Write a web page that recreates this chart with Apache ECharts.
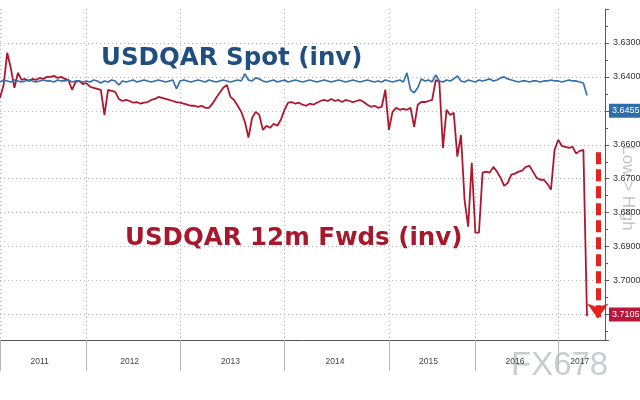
<!DOCTYPE html>
<html><head><meta charset="utf-8">
<script src="https://cdn.jsdelivr.net/npm/echarts@6/dist/echarts.min.js"></script>
<style>html,body{margin:0;padding:0;background:#fff}#c{width:640px;height:400px}</style>
</head><body><div id="c"></div>
<script>
// Categories: observation dates (Bloomberg-style trading axis)
const dates = [
 '2011-01-03','2011-01-17','2011-02-01','2011-02-15','2011-03-01','2011-03-15','2011-04-01','2011-04-15','2011-05-02','2011-05-16','2011-06-01','2011-06-15','2011-07-01','2011-07-15','2011-08-01','2011-08-15','2011-09-01','2011-09-15','2011-10-03','2011-10-17','2011-11-01','2011-11-15','2011-12-01','2011-12-15',
 '2012-01-02','2012-01-16','2012-01-30','2012-02-13','2012-02-27','2012-03-12','2012-03-26','2012-04-09','2012-04-23','2012-05-07','2012-05-21','2012-06-04','2012-06-18','2012-07-02','2012-07-16','2012-07-30','2012-08-13','2012-08-27','2012-09-10','2012-09-24','2012-10-08','2012-10-22','2012-11-05','2012-11-19','2012-12-03','2012-12-17',
 '2013-01-02','2013-01-15','2013-01-28','2013-02-10','2013-02-22','2013-03-07','2013-03-20','2013-04-01','2013-04-14','2013-04-27','2013-05-10','2013-05-22','2013-06-04','2013-06-17','2013-06-29','2013-07-12','2013-07-25','2013-08-07','2013-08-19','2013-09-01','2013-09-14','2013-09-27','2013-10-09','2013-10-22','2013-11-04','2013-11-16','2013-11-29','2013-12-12','2013-12-24',
 '2014-01-02','2014-01-15','2014-01-28','2014-02-10','2014-02-22','2014-03-07','2014-03-20','2014-04-01','2014-04-14','2014-04-27','2014-05-10','2014-05-22','2014-06-04','2014-06-17','2014-06-29','2014-07-12','2014-07-25','2014-08-07','2014-08-19','2014-09-01','2014-09-14','2014-09-27','2014-10-09','2014-10-22','2014-11-04','2014-11-16','2014-11-29','2014-12-12','2014-12-24',
 '2015-01-02','2015-01-15','2015-02-01','2015-02-15','2015-03-01','2015-03-15','2015-04-01','2015-04-15','2015-05-01','2015-05-15','2015-06-01','2015-06-15','2015-07-01','2015-07-15','2015-08-01','2015-08-15','2015-09-01','2015-09-15','2015-10-01','2015-10-15','2015-11-01','2015-11-15','2015-12-01','2015-12-15',
 '2016-01-04','2016-01-20','2016-02-05','2016-02-21','2016-03-08','2016-03-24','2016-04-09','2016-04-25','2016-05-11','2016-05-27','2016-06-12','2016-06-28','2016-07-14','2016-07-30','2016-08-15','2016-08-31','2016-09-16','2016-10-02','2016-10-18','2016-11-03','2016-11-19','2016-12-05','2016-12-21',
 '2017-01-02','2017-01-24','2017-02-15','2017-03-09','2017-03-31','2017-04-24','2017-05-16','2017-06-02','2017-06-06','2017-06-09','2017-06-14','2017-06-19','2017-06-23','2017-06-28'
];

// USDQAR spot (inverted axis)
const spot = [
 3.6415,3.6409,3.6412,3.6415,3.6409,3.6412,3.6415,3.6412,3.6409,3.6412,
 3.6415,3.6412,3.6409,3.6412,3.6412,3.6415,3.6409,3.6412,3.6412,3.6409,
 3.6415,3.6412,3.6412,3.6415,3.6412,3.6415,3.6409,3.6412,3.6418,3.6412,
 3.6415,3.6409,3.6412,3.6424,3.6412,3.6415,3.6412,3.6409,3.6415,3.6412,
 3.6409,3.6412,3.6415,3.6412,3.6409,3.6412,3.6415,3.6412,3.6409,3.6435,
 3.6412,3.6409,3.6412,3.6415,3.6412,3.6409,3.6412,3.6415,3.6409,3.6412,
 3.6415,3.6412,3.6409,3.6412,3.6415,3.6412,3.6409,3.6412,3.6391,3.6409,
 3.6412,3.6403,3.6406,3.6412,3.6415,3.6412,3.6409,3.6415,3.6412,3.6409,
 3.6415,3.6412,3.6409,3.6412,3.6415,3.6412,3.6409,3.6412,3.6415,3.6412,
 3.6409,3.6412,3.6415,3.6412,3.6409,3.6412,3.6415,3.6412,3.6409,3.6412,
 3.6415,3.6412,3.6409,3.6412,3.6415,3.6412,3.6415,3.6409,3.6412,3.6415,
 3.6412,3.6409,3.6415,3.6388,3.6438,3.6447,3.6432,3.6406,3.6412,3.6409,
 3.6415,3.6394,3.6412,3.6415,3.6409,3.6412,3.6406,3.6397,3.6412,3.6415,
 3.6409,3.6412,3.6415,3.6409,3.6412,3.6409,3.6406,3.6412,3.6409,3.6403,
 3.6400,3.6406,3.6409,3.6412,3.6415,3.6412,3.6412,3.6415,3.6412,3.6412,
 3.6415,3.6412,3.6412,3.6409,3.6412,3.6412,3.6415,3.6412,3.6409,3.6412,
 3.6412,3.6415,3.6418,3.6455
];

// USDQAR 12m forwards (inverted axis)
const fwd = [
 3.6462,3.6424,3.6329,3.6374,3.6432,3.6388,3.6409,3.6406,3.6412,3.6406,
 3.6409,3.6403,3.6406,3.6400,3.6400,3.6397,3.6403,3.6400,3.6406,3.6409,
 3.6438,3.6415,3.6412,3.6421,3.6418,3.6429,3.6432,3.6435,3.6438,3.6512,
 3.6438,3.6441,3.6444,3.6465,3.6471,3.6468,3.6471,3.6476,3.6474,3.6479,
 3.6476,3.6474,3.6468,3.6465,3.6459,3.6462,3.6465,3.6468,3.6471,3.6474,
 3.6476,3.6479,3.6482,3.6485,3.6485,3.6488,3.6485,3.6491,3.6491,3.6479,
 3.6462,3.6447,3.6432,3.6424,3.6459,3.6468,3.6485,3.6503,3.6532,3.6579,
 3.6521,3.6503,3.6512,3.6556,3.6544,3.6550,3.6538,3.6544,3.6526,3.6497,
 3.6476,3.6474,3.6479,3.6476,3.6482,3.6485,3.6479,3.6482,3.6476,3.6471,
 3.6468,3.6471,3.6465,3.6471,3.6468,3.6474,3.6468,3.6471,3.6474,3.6471,
 3.6468,3.6474,3.6482,3.6488,3.6485,3.6491,3.6488,3.6438,3.6556,3.6503,
 3.6491,3.6497,3.6494,3.6497,3.6491,3.6547,3.6482,3.6474,3.6474,3.6471,
 3.6468,3.6409,3.6415,3.6609,3.6497,3.6512,3.6506,3.6635,3.6571,3.6762,
 3.6841,3.6653,3.6859,3.6859,3.6682,3.6679,3.6682,3.6665,3.6679,3.6697,
 3.6721,3.6712,3.6688,3.6685,3.6679,3.6676,3.6665,3.6662,3.6679,3.6697,
 3.6703,3.6703,3.6715,3.6732,3.6615,3.6585,3.6603,3.6606,3.6609,3.6606,
 3.6626,3.6618,3.6615,3.7105
];

const lastSpot = 3.6455;
const lastFwd = 3.7105;
const arrowFrom = 3.6622, arrowTo = 3.7112, arrowAt = 166;
const yTicks = { min: 3.62, max: 3.7175, step: 0.01 };

// year boundaries / label positions derived from categories
const yearStart = new Set(), yearMid = new Set();
(function(){
  const groups = {};
  dates.forEach((d,i)=>{const y=d.slice(0,4);(groups[y]=groups[y]||[]).push(i);});
  Object.values(groups).forEach(g=>{yearStart.add(g[0]);yearMid.add(Math.floor((g[0]+g[g.length-1])/2));});
})();

const chart = echarts.init(document.getElementById('c'), null, {renderer:'canvas'});
chart.setOption({
  animation:false,
  backgroundColor:'#ffffff',
  grid:{left:0,right:35,top:9,bottom:60,containLabel:false,outerBoundsMode:'none'},
  title:[
    {text:'USDQAR Spot (inv)',left:96,top:41,textStyle:{fontFamily:'DejaVu Sans',fontWeight:'bold',fontSize:24.5,color:'#1f4e7f'}},
    {text:'USDQAR 12m Fwds (inv)',left:120,top:221,textStyle:{fontFamily:'DejaVu Sans',fontWeight:'bold',fontSize:24.5,color:'#a8182c'}}
  ],
  graphic:[
    {type:'text',x:628,y:188,rotation:-Math.PI/2,style:{text:'Low > High',font:'17px "Liberation Sans"',fill:'#c4c4c4',align:'center',verticalAlign:'middle'}},
    {type:'text',left:511,top:349,style:{text:'FX678',font:'33px "Liberation Sans"',fill:'#c9ccd0'}}
  ],
  xAxis:{
    type:'category',data:dates,boundaryGap:false,
    axisLine:{lineStyle:{color:'#555',width:1}},
    axisTick:{show:true,length:31,interval:(i)=>yearStart.has(i),lineStyle:{color:'#b5b5b5'}},
    axisLabel:{show:true,interval:(i)=>yearMid.has(i),hideOverlap:false,formatter:(v)=>v.slice(0,4),fontSize:8.5,color:'#444',fontFamily:'Liberation Sans',margin:17},
    splitLine:{show:true,interval:(i)=>yearStart.has(i),lineStyle:{color:'#b8b8b8',type:[1,3]}}
  },
  yAxis:{
    type:'value',position:'right',inverse:true,
    min:yTicks.min,max:yTicks.max,interval:yTicks.step,
    axisLine:{show:true,lineStyle:{color:'#4d5b6a'}},
    axisTick:{show:true,length:4,lineStyle:{color:'#4d5b6a'}},
    minorTick:{show:true,splitNumber:2,length:3,lineStyle:{color:'#4d5b6a'}},
    axisLabel:{margin:8,fontSize:9,color:'#333',fontFamily:'Liberation Sans',
      formatter:(v)=>(v<3.625||v>3.705)?'':v.toFixed(4)},
    splitLine:{show:true,showMinLine:false,showMaxLine:false,lineStyle:{color:'#b8b8b8',type:[1,3]}}
  },
  series:[
    {name:'USDQAR Spot',type:'line',data:spot,showSymbol:false,symbol:'none',
     lineStyle:{color:'#3570aa',width:1.7},z:3,
     markLine:{silent:true,symbol:'none',z:10,
       data:[{yAxis:lastSpot,lineStyle:{color:'rgba(0,0,0,0)',width:0},
         label:{show:true,position:'end',distance:4,formatter:lastSpot.toFixed(4),color:'#fff',backgroundColor:'#2f6cab',padding:[3,3,2,3],fontSize:9,fontFamily:'Liberation Sans'}}]}
    },
    {name:'USDQAR 12m Fwds',type:'line',data:fwd,showSymbol:false,symbol:'none',
     lineStyle:{color:'#b0172e',width:1.8},z:2,
     markLine:{silent:true,symbol:'none',z:10,
       data:[
         {yAxis:lastFwd,lineStyle:{color:'rgba(0,0,0,0)',width:0},
          label:{show:true,position:'end',distance:4,formatter:lastFwd.toFixed(4),color:'#fff',backgroundColor:'#b8163a',padding:[3,3,2,3],fontSize:9,fontFamily:'Liberation Sans'}},
         [{coord:[arrowAt,arrowFrom],symbol:'none',lineStyle:{color:'#e3231c',width:5,type:[12,5]},label:{show:false}},
          {coord:[arrowAt,arrowTo],symbol:'arrow',symbolSize:[16,15],lineStyle:{color:'#e3231c',width:5,type:[12,5]},label:{show:false}}]
       ]}
    }
  ]
});
</script></body></html>
